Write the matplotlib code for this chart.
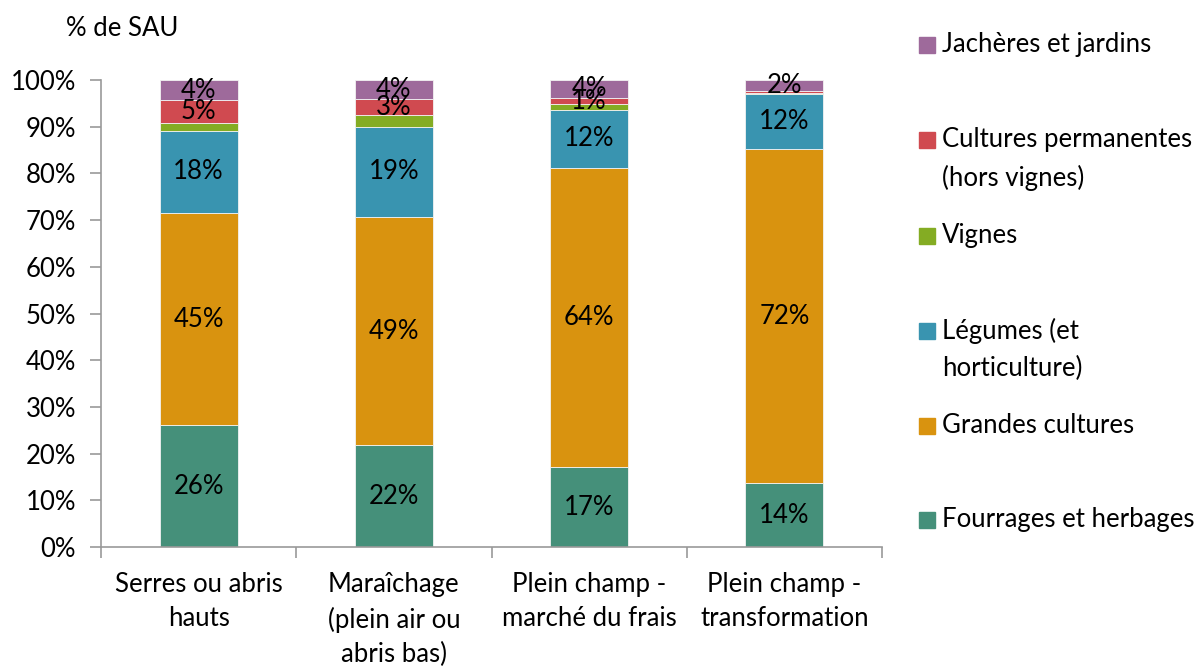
#!/usr/bin/env python3
"""Stacked bars: share of SAU per production type."""

import matplotlib
matplotlib.use("Agg")
import matplotlib.pyplot as plt
from matplotlib.patches import Rectangle
import numpy as np

categories = ["Serres ou abris\nhauts",
              "Maraîchage\n(plein air ou\nabris bas)",
              "Plein champ -\nmarché du frais",
              "Plein champ -\ntransformation"]

series_names = ["Fourrages et herbages", "Grandes cultures",
                "Légumes (et\nhorticulture)", "Vignes",
                "Cultures permanentes\n(hors vignes)", "Jachères et jardins"]

fourrages = [26.1, 21.8, 17.1, 13.6]
grandes = [45.4, 48.9, 64.1, 71.6]
legumes = [17.6, 19.2, 12.4, 11.7]
vignes = [1.7, 2.6, 1.2, 0.4]
permanentes = [4.9, 3.4, 1.4, 0.3]
jacheres = [4.3, 4.1, 3.8, 2.4]

# labels as printed on the chart (some are hidden)
lab_fourrages = ["26%", "22%", "17%", "14%"]
lab_grandes = ["45%", "49%", "64%", "72%"]
lab_legumes = ["18%", "19%", "12%", "12%"]
lab_vignes = ["", "", "", ""]
lab_permanentes = ["5%", "3%", "1%", ""]
lab_jacheres = ["4%", "4%", "4%", "2%"]

colors = ["#45907A", "#D9930F", "#3994B0", "#84AC23", "#D04A50", "#9E6A9B"]

FONT = "Lato"
FS = 18.5

plt.rcParams["font.family"] = [FONT, "DejaVu Sans"]

fig = plt.figure(figsize=(12.03, 6.66), dpi=100)
ax = fig.add_axes([101 / 1203, 1 - 547 / 666, (882 - 101) / 1203, (547 - 80) / 666])

values = [fourrages, grandes, legumes, vignes, permanentes, jacheres]
labels = [lab_fourrages, lab_grandes, lab_legumes, lab_vignes,
          lab_permanentes, lab_jacheres]

x = np.arange(len(categories))
bottom = np.zeros(len(categories))
for vals, labs, col in zip(values, labels, colors):
    vals = np.array(vals)
    ax.bar(x, vals, width=0.4, bottom=bottom, color=col,
           edgecolor="#f2f2f2", linewidth=0.6, zorder=2)
    for xi, b, v, t in zip(x, bottom, vals, labs):
        if t:
            ax.text(xi, b + v / 2, t, ha="center", va="center",
                    fontsize=FS, color="black", zorder=3)
    bottom += vals

ax.set_xlim(-0.5, len(categories) - 0.5)
ax.set_ylim(0, 100)
ax.set_yticks(np.arange(0, 101, 10))
ax.set_yticklabels([f"{v}%" for v in range(0, 101, 10)], fontsize=FS)
ax.set_xticks(x)
ax.set_xticklabels(categories, fontsize=FS, linespacing=1.45)
ax.set_xticks(np.arange(-0.5, len(categories), 1), minor=True)
ax.tick_params(axis="x", which="major", length=0, pad=18)
ax.tick_params(axis="x", which="minor", length=8, color="#999999", width=1.2)
ax.tick_params(axis="y", length=8, color="#999999", width=1.2, pad=10)

for s in ["top", "right"]:
    ax.spines[s].set_visible(False)
for s in ["left", "bottom"]:
    ax.spines[s].set_color("#999999")
    ax.spines[s].set_linewidth(1.2)

fig.text(66 / 1203, 1 - 28 / 666, "% de SAU", fontsize=FS, va="center", ha="left")

# legend, top entry first, laid out like the source
legend_y = [520, 426, 331, 236, 140, 45]
for name, col, yy in zip(series_names, colors, legend_y):
    fig.patches.append(Rectangle((919 / 1203, 1 - (yy + 8) / 666), 16 / 1203, 16 / 666,
                                 transform=fig.transFigure, color=col))
    fig.text(942 / 1203, 1 - (yy - 13) / 666, name, fontsize=FS, va="top",
             ha="left", linespacing=1.6)

fig.savefig("out.png", dpi=100)
